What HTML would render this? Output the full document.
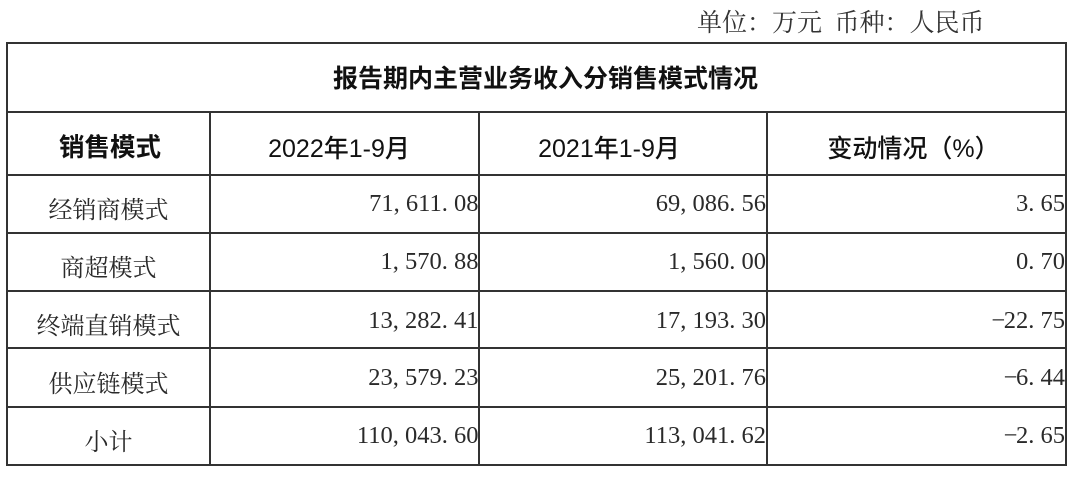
<!DOCTYPE html>
<html>
<head>
<meta charset="utf-8">
<style>
html,body{margin:0;padding:0;background:#fff;}
body{width:1080px;height:480px;position:relative;overflow:hidden;}
.h{position:absolute;height:2px;left:6px;width:1061px;background:#333;}
.v{position:absolute;width:2px;background:#333;}
.t{position:absolute;white-space:nowrap;}
.song{font-family:"Liberation Serif","Noto Serif CJK SC",serif;font-size:24px;line-height:24px;color:#2a2a2a;text-align:center;width:200px;}
.hei{font-family:"Liberation Sans","Noto Sans CJK SC",sans-serif;font-size:25px;line-height:25px;color:#111;text-align:center;width:200px;font-weight:500;}
.num{font-family:"Liberation Serif",serif;font-size:24.5px;line-height:24.5px;color:#2a2a2a;text-align:right;width:200px;}
.num i{font-style:normal;display:inline-block;width:12.25px;text-align:left;}
.num i.m{text-align:center;}
</style>
</head>
<body>
<!-- unit text -->
<div class="t" style="left:697px;top:10.5px;font-family:'Liberation Serif','Noto Serif CJK SC',serif;font-size:25px;line-height:25px;color:#333;">单位：万元<span style="display:inline-block;width:12.5px"></span>币种：人民币</div>

<!-- horizontal lines -->
<div class="h" style="top:42px"></div>
<div class="h" style="top:111px"></div>
<div class="h" style="top:174px"></div>
<div class="h" style="top:232px"></div>
<div class="h" style="top:290px"></div>
<div class="h" style="top:347px"></div>
<div class="h" style="top:406px"></div>
<div class="h" style="top:464px"></div>

<!-- vertical lines -->
<div class="v" style="left:6px;top:42px;height:424px"></div>
<div class="v" style="left:1065px;top:42px;height:424px"></div>
<div class="v" style="left:209px;top:111px;height:355px"></div>
<div class="v" style="left:478px;top:111px;height:355px"></div>
<div class="v" style="left:766px;top:111px;height:355px"></div>

<!-- title -->
<div class="t" style="left:245.5px;top:67px;width:600px;text-align:center;font-family:'Liberation Sans','Noto Sans CJK SC',sans-serif;font-size:25px;line-height:25px;font-weight:700;color:#111;">报告期内主营业务收入分销售模式情况</div>

<!-- headers -->
<div class="t hei" style="left:10px;top:136px;font-weight:700;font-size:25.5px;">销售模式</div>
<div class="t hei" style="left:239px;top:136.5px;">2022年1-9月</div>
<div class="t hei" style="left:509px;top:136.5px;">2021年1-9月</div>
<div class="t hei" style="left:813.5px;top:136.5px;">变动情况（%）</div>

<!-- labels -->
<div class="t song" style="left:8.5px;top:199px;">经销商模式</div>
<div class="t song" style="left:8.5px;top:257px;">商超模式</div>
<div class="t song" style="left:8.5px;top:315px;">终端直销模式</div>
<div class="t song" style="left:8.5px;top:372.5px;">供应链模式</div>
<div class="t song" style="left:8.5px;top:431px;">小计</div>

<!-- column 2022 -->
<div class="t num" style="left:278.5px;top:192.3px;">71<i>,</i>611<i>.</i>08</div>
<div class="t num" style="left:278.5px;top:250.3px;">1<i>,</i>570<i>.</i>88</div>
<div class="t num" style="left:278.5px;top:308.6px;">13<i>,</i>282<i>.</i>41</div>
<div class="t num" style="left:278.5px;top:366px;">23<i>,</i>579<i>.</i>23</div>
<div class="t num" style="left:278.5px;top:424.3px;">110<i>,</i>043<i>.</i>60</div>

<!-- column 2021 -->
<div class="t num" style="left:566px;top:192.3px;">69<i>,</i>086<i>.</i>56</div>
<div class="t num" style="left:566px;top:250.3px;">1<i>,</i>560<i>.</i>00</div>
<div class="t num" style="left:566px;top:308.6px;">17<i>,</i>193<i>.</i>30</div>
<div class="t num" style="left:566px;top:366px;">25<i>,</i>201<i>.</i>76</div>
<div class="t num" style="left:566px;top:424.3px;">113<i>,</i>041<i>.</i>62</div>

<!-- column change -->
<div class="t num" style="left:865px;top:192.3px;">3<i>.</i>65</div>
<div class="t num" style="left:865px;top:250.3px;">0<i>.</i>70</div>
<div class="t num" style="left:865px;top:308.6px;"><i class="m">−</i>22<i>.</i>75</div>
<div class="t num" style="left:865px;top:366px;"><i class="m">−</i>6<i>.</i>44</div>
<div class="t num" style="left:865px;top:424.3px;"><i class="m">−</i>2<i>.</i>65</div>
</body>
</html>
